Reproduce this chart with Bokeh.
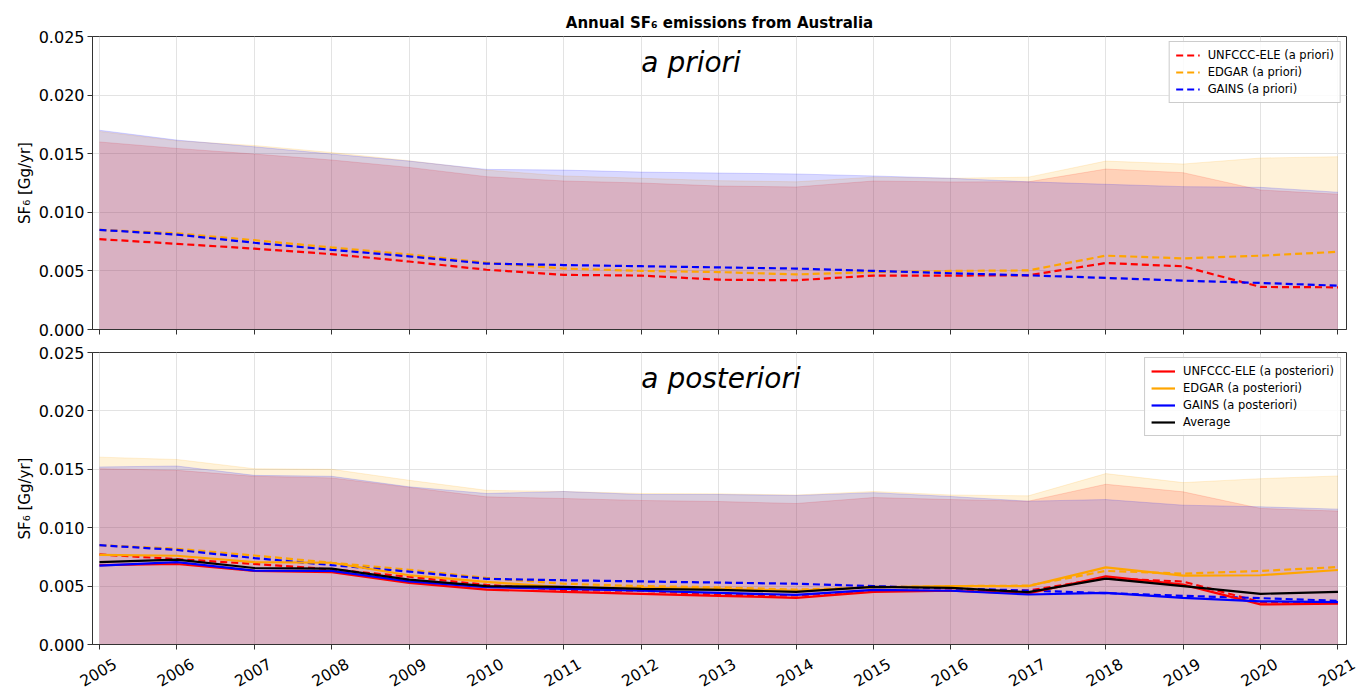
import math
from bokeh.plotting import figure
from bokeh.models import (Range1d, FixedTicker, NumeralTickFormatter, Legend, LegendItem, Label)
from bokeh.core.properties import value
from bokeh.layouts import column
from bokeh.embed import file_html
from bokeh.resources import INLINE

years = list(range(2005, 2022))
year_labels = [str(y) for y in years]

# a priori (Gg/yr)
unfccc_prior = [0.00771, 0.00731, 0.0069, 0.00643, 0.0058, 0.0051, 0.00466, 0.0046, 0.00425, 0.0042,
                0.0046, 0.0046, 0.00462, 0.00567, 0.00539, 0.00363, 0.0036]
edgar_prior = [0.0085, 0.0082, 0.00762, 0.0070, 0.0064, 0.0057, 0.0052, 0.0050, 0.0049, 0.0047,
               0.0049, 0.0050, 0.00504, 0.0063, 0.00607, 0.0063, 0.00663]
gains_prior = [0.0085, 0.0081, 0.0074, 0.0068, 0.00624, 0.00562, 0.0055, 0.0054, 0.0053, 0.0052,
               0.0050, 0.0048, 0.00462, 0.0044, 0.00417, 0.00397, 0.00374]

# a priori upper uncertainty bounds
unfccc_prior_hi = [0.0160, 0.01545, 0.01497, 0.01446, 0.01383, 0.01304, 0.01267, 0.0125, 0.01224, 0.01216,
                   0.01267, 0.01259, 0.0126, 0.01369, 0.01338, 0.0119, 0.01154]
edgar_prior_hi = [0.0169, 0.0161, 0.0157, 0.0151, 0.0144, 0.0136, 0.0131, 0.0129, 0.0127, 0.0126,
                  0.0130, 0.0129, 0.0130, 0.01437, 0.01412, 0.01463, 0.01474]
gains_prior_hi = [0.0170, 0.01616, 0.01559, 0.01497, 0.01437, 0.01366, 0.0136, 0.01343, 0.01335, 0.01327,
                  0.0131, 0.0129, 0.0126, 0.01239, 0.01219, 0.01213, 0.01171]

# a posteriori (Gg/yr)
unfccc_post = [0.0068, 0.00689, 0.0063, 0.0062, 0.00527, 0.0047, 0.0045, 0.00434, 0.00417, 0.0040,
               0.0045, 0.0046, 0.00437, 0.00584, 0.00513, 0.00343, 0.00349]
edgar_post = [0.00768, 0.0076, 0.00706, 0.0070, 0.00593, 0.00536, 0.0049, 0.00485, 0.00476, 0.0046,
              0.0049, 0.0050, 0.0050, 0.0066, 0.0059, 0.00593, 0.00638]
gains_post = [0.00675, 0.00706, 0.00632, 0.0063, 0.00541, 0.0049, 0.00476, 0.0046, 0.00442, 0.00425,
              0.00468, 0.0046, 0.00428, 0.00442, 0.0040, 0.0037, 0.00363]
average_post = [0.00706, 0.00726, 0.00655, 0.00649, 0.00556, 0.0050, 0.00493, 0.00476, 0.00468, 0.0045,
                0.00493, 0.00485, 0.00448, 0.00564, 0.0050, 0.00434, 0.00451]

# a posteriori upper uncertainty bounds
unfccc_post_hi = [0.01505, 0.01491, 0.0144, 0.01426, 0.01345, 0.01264, 0.0125, 0.01233, 0.01224, 0.01207,
                  0.01258, 0.01241, 0.01227, 0.01372, 0.01307, 0.01165, 0.01142]
edgar_post_hi = [0.01604, 0.01584, 0.01505, 0.0150, 0.01406, 0.0132, 0.0131, 0.01293, 0.0129, 0.0128,
                 0.0131, 0.0128, 0.01273, 0.01463, 0.01386, 0.0142, 0.01443]
gains_post_hi = [0.0152, 0.01528, 0.01448, 0.0144, 0.0135, 0.01293, 0.0131, 0.01284, 0.01284, 0.01276,
                 0.0130, 0.01267, 0.01227, 0.01241, 0.01193, 0.01179, 0.01159]

y_ticks = [0.0, 0.005, 0.010, 0.015, 0.020, 0.025]

RED, ORANGE, BLUE = "#ff0000", "#ffa500", "#0000ff"
FONT = "DejaVu Sans"
X0, X1 = 2004.91, 2021.11
Y1 = 0.025
LEFT = 92
FW = 1254
RIGHT = 13
FH1 = 293
FH2 = 292


def style(p):
    p.y_range = Range1d(0, Y1)
    p.x_range = Range1d(X0, X1)
    p.xaxis.ticker = FixedTicker(ticks=years)
    p.yaxis.ticker = FixedTicker(ticks=y_ticks)
    p.yaxis.formatter = NumeralTickFormatter(format="0.000")
    for ax in (p.xaxis, p.yaxis):
        ax.axis_line_color = "#333333"
        ax.major_tick_line_color = "#333333"
        ax.major_tick_out = 5
        ax.major_tick_in = 0
        ax.minor_tick_line_color = None
        ax.major_label_text_font = FONT
        ax.major_label_text_font_size = "16px"
        ax.major_label_text_color = "black"
    # x tick labels are drawn in a strip below (rotated, centred on the ticks)
    p.xaxis.major_label_text_color = None
    p.xaxis.major_label_text_font_size = "1px"
    p.xaxis.major_label_standoff = 0
    p.yaxis.axis_label = "SF₆ [Gg/yr]"
    p.yaxis.axis_label_text_font = FONT
    p.yaxis.axis_label_text_font_size = "15px"
    p.yaxis.axis_label_text_font_style = "normal"
    p.yaxis.axis_label_text_color = "black"
    p.yaxis.axis_label_standoff = 2
    p.yaxis.major_label_standoff = 3
    p.grid.grid_line_color = "#e3e3e3"
    p.grid.grid_line_width = 1
    p.outline_line_color = "#333333"
    p.outline_line_alpha = 1
    p.background_fill_color = "white"
    p.border_fill_color = "white"


def bands(p, his):
    for hi, c in his:
        p.varea(x=years, y1=[0.0] * len(years), y2=hi, fill_color=c, fill_alpha=0.15)
        p.line(years, hi, line_color=c, line_alpha=0.15, line_width=1)


# ---------- top: a priori ----------
p1 = figure(frame_width=FW, frame_height=FH1, output_backend="svg", toolbar_location=None,
            min_border_left=LEFT, min_border_right=RIGHT, min_border_top=36, min_border_bottom=12)
style(p1)
p1.title.text = "Annual SF₆ emissions from Australia"
p1.title.align = "center"
p1.title.text_font = FONT
p1.title.text_font_size = "15px"
p1.title.text_font_style = "bold"
p1.title.text_color = "black"
bands(p1, [(unfccc_prior_hi, RED), (edgar_prior_hi, ORANGE), (gains_prior_hi, BLUE)])
r1 = p1.line(years, unfccc_prior, line_color=RED, line_width=2.2, line_dash="7 4")
r2 = p1.line(years, edgar_prior, line_color=ORANGE, line_width=2.2, line_dash="7 4")
r3 = p1.line(years, gains_prior, line_color=BLUE, line_width=2.2, line_dash="7 4")
leg1 = Legend(items=[LegendItem(label="UNFCCC-ELE (a priori)", renderers=[r1]),
                     LegendItem(label="EDGAR (a priori)", renderers=[r2]),
                     LegendItem(label="GAINS (a priori)", renderers=[r3])],
              location="top_right")
p1.add_layout(Label(x=2012.0, y=Y1 - 26 * Y1 / FH1, text="a priori", text_font=FONT,
                    text_font_size="28px", text_font_style="italic", text_color="black",
                    text_baseline="middle", text_align="left"))

# ---------- bottom: a posteriori ----------
p2 = figure(frame_width=FW, frame_height=FH2, output_backend="svg", toolbar_location=None,
            min_border_left=LEFT, min_border_right=RIGHT, min_border_top=11, min_border_bottom=9)
style(p2)
bands(p2, [(unfccc_post_hi, RED), (edgar_post_hi, ORANGE), (gains_post_hi, BLUE)])
p2.line(years, unfccc_prior, line_color=RED, line_width=2.2, line_dash="7 4")
p2.line(years, edgar_prior, line_color=ORANGE, line_width=2.2, line_dash="7 4")
p2.line(years, gains_prior, line_color=BLUE, line_width=2.2, line_dash="7 4")
s1 = p2.line(years, unfccc_post, line_color=RED, line_width=2.2)
s2 = p2.line(years, edgar_post, line_color=ORANGE, line_width=2.2)
s3 = p2.line(years, gains_post, line_color=BLUE, line_width=2.2)
s4 = p2.line(years, average_post, line_color="black", line_width=2.2)
leg2 = Legend(items=[LegendItem(label="UNFCCC-ELE (a posteriori)", renderers=[s1]),
                     LegendItem(label="EDGAR (a posteriori)", renderers=[s2]),
                     LegendItem(label="GAINS (a posteriori)", renderers=[s3]),
                     LegendItem(label="Average", renderers=[s4])],
              location="top_right")
p2.add_layout(Label(x=2012.0, y=Y1 - 26 * Y1 / FH2, text="a posteriori", text_font=FONT,
                    text_font_size="28px", text_font_style="italic", text_color="black",
                    text_baseline="middle", text_align="left"))

for p, leg in ((p1, leg1), (p2, leg2)):
    leg.label_text_font = FONT
    leg.label_text_font_size = "11.5px"
    leg.label_text_color = "black"
    leg.glyph_width = 24
    leg.glyph_height = 14
    leg.label_height = 14
    leg.spacing = 3
    leg.padding = 6
    leg.margin = 5
    leg.label_standoff = 8
    leg.border_line_color = "#cccccc"
    leg.border_line_alpha = 1
    leg.background_fill_alpha = 0.85
    p.add_layout(leg)

# ---------- strip with the rotated year labels: same x scale, wider frame ----------
px_per_year = FW / (X1 - X0)
STRIP_LEFT = 60
STRIP_H = 37
strip_w = FW + RIGHT + (LEFT - STRIP_LEFT)
sx0 = X0 - (LEFT - STRIP_LEFT) / px_per_year
p3 = figure(frame_width=strip_w, frame_height=STRIP_H, output_backend="svg", toolbar_location=None,
            min_border_left=STRIP_LEFT, min_border_right=0, min_border_top=0, min_border_bottom=0,
            x_range=Range1d(sx0, sx0 + strip_w / px_per_year), y_range=Range1d(0, STRIP_H))
p3.axis.visible = False
p3.grid.visible = False
p3.outline_line_color = None
p3.background_fill_color = "white"
p3.border_fill_color = "white"
p3.text(x=years, y=[STRIP_H - 18.5] * len(years), text=year_labels, angle=30, angle_units="deg",
        text_font=value(FONT), text_font_size="15.5px", text_color="black",
        text_align="center", text_baseline="middle", x_offset=-1.5)

layout = column(column(p1, p2, spacing=0), p3, spacing=0)
open("out.html", "w").write(file_html(layout, INLINE))
